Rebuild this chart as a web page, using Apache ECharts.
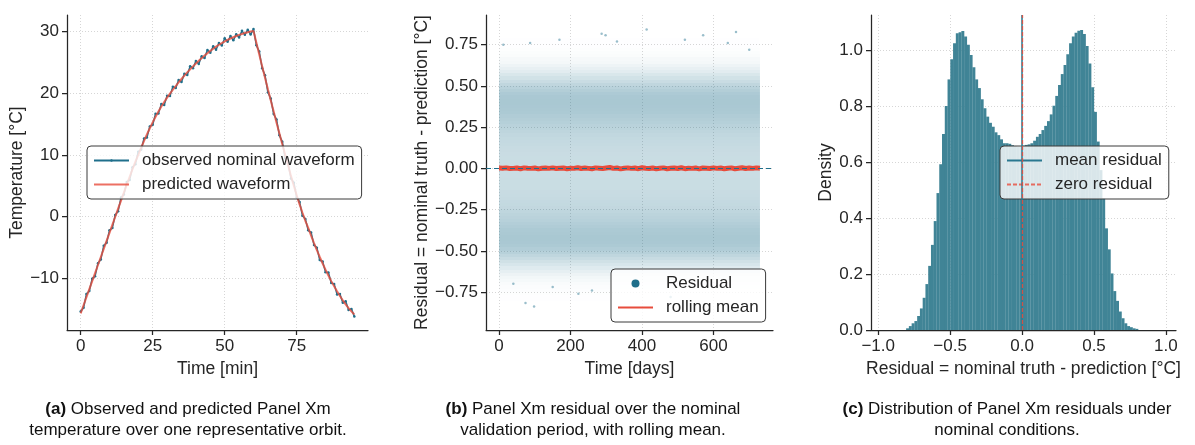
<!DOCTYPE html>
<html><head><meta charset="utf-8">
<script src="https://cdn.jsdelivr.net/npm/echarts@6/dist/echarts.min.js"></script>
<style>html,body{margin:0;padding:0;background:#fff}#c{width:1195px;height:445px}</style>
</head><body><div id="c"></div><script>
const FONT = '"Liberation Sans", Arial, Helvetica, sans-serif';
const TEAL = '#1f6f8b', RED = '#e74c3c', INK = '#262626';

// ---------- panel (a): one orbit ----------
const orbitTime = [0,1,2,3,4,5,6,7,8,9,10,11,12,13,14,15,16,17,18,19,20,21,22,23,24,25,26,27,28,29,30,31,32,33,34,35,36,37,38,39,40,41,42,43,44,45,46,47,48,49,50,51,52,53,54,55,56,57,58,59,60,61,62,63,64,65,66,67,68,69,70,71,72,73,74,75,76,77,78,79,80,81,82,83,84,85,86,87,88,89,90,91,92,93,94,95];
const observedTemp = [-15.3,-14.7,-12.5,-12.0,-10.0,-9.6,-7.5,-6.9,-4.7,-4.2,-2.2,-1.8,0.3,0.9,3.1,3.6,5.6,5.95,8.0,8.5,10.5,10.85,12.65,12.8,14.6,14.85,16.65,16.7,18.2,18.05,19.55,19.5,21.02,20.82,22.1,21.76,23.1,22.92,24.32,24.0,25.16,24.7,25.93,25.64,26.93,26.5,27.55,26.98,28.09,27.67,28.83,28.27,29.2,28.51,29.5,28.98,30.04,29.39,30.22,29.43,30.33,27.7,26.7,24.0,22.85,20.1,19.1,16.6,15.7,13.15,12.1,9.5,8.65,6.2,5.5,3.15,2.4,0.15,-0.35,-2.2,-2.55,-4.55,-5.0,-7.0,-7.25,-8.95,-9.0,-10.7,-10.85,-12.55,-12.5,-13.9,-13.65,-15.05,-14.9,-16.1];
const predictedTemp = [-15.6,-14.3,-13.0,-11.7,-10.4,-9.1,-7.8,-6.5,-5.2,-3.9,-2.6,-1.3,0.0,1.3,2.6,3.9,5.2,6.45,7.7,8.9,10.0,11.15,12.25,13.3,14.3,15.25,16.15,17.0,17.8,18.55,19.25,19.9,20.52,21.12,21.7,22.26,22.8,23.32,23.82,24.3,24.76,25.2,25.63,26.04,26.43,26.8,27.15,27.48,27.79,28.07,28.33,28.57,28.8,29.01,29.2,29.38,29.54,29.69,29.82,29.93,30.03,28.1,26.2,24.3,22.45,20.6,18.8,17.0,15.2,13.45,11.7,10.0,8.35,6.6,5.0,3.45,2.0,0.65,-0.65,-1.8,-3.05,-4.25,-5.4,-6.5,-7.55,-8.55,-9.5,-10.4,-11.25,-12.05,-12.8,-13.5,-14.15,-14.75,-15.3,-15.8];
const orbitTicks = [0,25,50,75];
const tempTicks = [-10,0,10,20,30];

// ---------- panel (b): residual over validation period ----------
const validationDays = [0, 730];
const rollDays = [0,10,20,30,40,50,60,70,80,90,100,110,120,130,140,150,160,170,180,190,200,210,220,230,240,250,260,270,280,290,300,310,320,330,340,350,360,370,380,390,400,410,420,430,440,450,460,470,480,490,500,510,520,530,540,550,560,570,580,590,600,610,620,630,640,650,660,670,680,690,700,710,720,730];
const rollMean = [0.002,0.001,0.003,-0.001,0.000,0.002,-0.002,0.003,0.001,0.000,0.002,-0.003,0.001,0.002,0.000,0.003,-0.001,0.001,0.002,-0.002,0.001,0.000,0.004,-0.001,0.002,0.000,-0.002,0.003,0.001,-0.001,0.002,0.005,0.000,0.002,-0.003,0.001,0.003,0.000,0.002,-0.002,0.004,0.001,-0.001,0.002,-0.002,0.001,0.003,-0.002,0.001,0.002,-0.001,0.004,-0.002,0.001,0.000,0.002,-0.003,0.002,0.001,-0.001,0.003,0.000,0.002,-0.002,0.001,0.003,-0.002,0.001,0.004,-0.001,0.002,0.000,0.003,0.001];
const residualOutliers = [[287,0.817],[298,0.807],[413,0.842],[571,0.807],[663,0.827],[74,-0.817],[98,-0.837],[169,0.78],[87,0.76],[12,0.75],[330,0.77],[520,0.78],[700,0.72],[40,-0.70],[150,-0.72],[260,-0.74],[480,-0.78],[610,-0.72],[222,-0.76],[640,0.76]];
const dayTicks = [0,200,400,600];
const residTicks = [-0.75,-0.5,-0.25,0,0.25,0.5,0.75];

// ---------- panel (c): residual distribution ----------
const histStart = -0.806, histBinWidth = 0.0192;
const histDensity = [0.006,0.014,0.024,0.032,0.05,0.077,0.115,0.164,0.229,0.304,0.389,0.489,0.592,0.70,0.80,0.895,0.967,1.024,1.06,1.063,1.068,1.048,1.019,0.982,0.938,0.895,0.864,0.824,0.792,0.762,0.74,0.726,0.706,0.696,0.681,0.667,0.667,0.665,0.66,0.657,0.655,0.655,
  0.658,0.661,0.663,0.667,0.676,0.69,0.70,0.714,0.729,0.746,0.77,0.801,0.836,0.875,0.914,0.946,0.985,1.024,1.048,1.062,1.069,1.071,1.057,1.014,0.952,0.867,0.779,0.673,0.571,0.47,0.363,0.288,0.202,0.139,0.104,0.066,0.042,0.024,0.014,0.010,0.006,0.004];
const meanResidual = 0.0;
const zeroResidual = 0.0;
const histTicks = [-1,-0.5,0,0.5,1];
const densityTicks = [0,0.2,0.4,0.6,0.8,1.0];

// ---------- build ----------
const minus = s => String(s).replace('-', '\u2212');
const histBins = histDensity.map((d, i) => [histStart + i*histBinWidth, histStart + (i+1)*histBinWidth, d]);

function axis(gridIndex, min, max, ticks, fmt, extra) {
  return Object.assign({
    type: 'value', gridIndex, min, max,
    axisLine: {show: true, onZero: false, lineStyle: {color: INK, width: 1.25}},
    axisTick: {show: true, inside: false, length: 5, customValues: ticks, lineStyle: {color: INK, width: 1.25}},
    axisLabel: {customValues: ticks, formatter: fmt, color: INK, fontSize: 17, fontFamily: FONT, margin: 8, hideOverlap: false},
    splitLine: {show: true, lineStyle: {color: '#d6d6d6', type: [1, 2], width: 1}},
    nameLocation: 'middle',
    nameTextStyle: {fontSize: 17.5, fontFamily: FONT, color: INK}
  }, extra || {});
}
const legendBase = {
  orient: 'vertical', itemWidth: 35, itemHeight: 3, itemGap: 7,
  padding: [6, 7, 6, 6],
  backgroundColor: 'rgba(255,255,255,0.8)', borderColor: '#3a3a3a', borderWidth: 1, borderRadius: 4,
  textStyle: {fontSize: 17, fontFamily: FONT, color: INK, lineHeight: 17, padding: [0, 0, 0, 8]},
  selectedMode: false
};
const noDot = {opacity: 0};

const chart = echarts.init(document.getElementById('c'), null, {renderer: 'canvas'});
chart.setOption({
  animation: false,
  backgroundColor: '#fff',
  grid: [
    {left: 67, top: 15, width: 301, height: 315},
    {left: 486, top: 15, width: 287, height: 315},
    {left: 871, top: 15, width: 305, height: 315}
  ],
  xAxis: [
    axis(0, -4.75, 99.75, orbitTicks, v => minus(v), {name: 'Time [min]', nameGap: 23}),
    axis(1, -36.5, 766.5, dayTicks, v => minus(v), {name: 'Time [days]', nameGap: 23}),
    axis(2, -1.05, 1.07, histTicks, v => minus(v.toFixed(1)), {name: 'Residual = nominal truth - prediction [°C]', nameGap: 23})
  ],
  yAxis: [
    axis(0, -18.3, 32.6, tempTicks, v => minus(v), {name: 'Temperature [°C]', nameGap: 40}),
    axis(1, -0.98, 0.93, residTicks, v => minus(v.toFixed(2)), {name: 'Residual = nominal truth - prediction [°C]', nameGap: 55}),
    axis(2, 0, 1.125, densityTicks, v => minus(v.toFixed(1)), {name: 'Density', nameGap: 35})
  ],
  legend: [
    Object.assign({}, legendBase, {left: 87, top: 146,
      data: ['observed nominal waveform', {name: 'predicted waveform', itemStyle: noDot}]}),
    Object.assign({}, legendBase, {left: 611, top: 269, itemHeight: 8,
      data: [{name: 'Residual', icon: 'circle', itemStyle: {color: TEAL, opacity: 1}},
             {name: 'rolling mean', itemStyle: noDot}]}),
    Object.assign({}, legendBase, {left: 1000, top: 146,
      data: [{name: 'mean residual', itemStyle: noDot}, {name: 'zero residual', itemStyle: noDot}]})
  ],
  series: [
    // (a)
    {type: 'line', name: 'observed nominal waveform', xAxisIndex: 0, yAxisIndex: 0,
      data: orbitTime.map((t, i) => [t, observedTemp[i]]),
      symbol: 'circle', symbolSize: 2.5, showSymbol: true,
      lineStyle: {color: TEAL, width: 1.5}, itemStyle: {color: TEAL}, z: 2},
    {type: 'line', name: 'predicted waveform', xAxisIndex: 0, yAxisIndex: 0,
      data: orbitTime.map((t, i) => [t, predictedTemp[i]]),
      symbol: 'none', showSymbol: false,
      lineStyle: {color: RED, width: 2, opacity: 0.8}, itemStyle: {color: RED}, z: 3},
    // (b) residual cloud density drawn from the residual distribution over the validation window
    {type: 'custom', name: 'cloud', xAxisIndex: 1, yAxisIndex: 1, clip: true, silent: true,
      data: histBins.map(b => [validationDays[0], validationDays[1], b[0], b[1], b[2]]),
      encode: {x: [0, 1], y: [2, 3]},
      renderItem: (params, api) => {
        const p0 = api.coord([api.value(0), api.value(3)]);
        const p1 = api.coord([api.value(1), api.value(2)]);
        const y0 = Math.round(p0[1]), y1 = Math.round(p1[1]);
        return {type: 'rect', shape: {x: p0[0], y: y0, width: p1[0] - p0[0], height: y1 - y0},
          style: {fill: TEAL, opacity: api.value(4) * 0.36}};
      }, z: 1},
    {type: 'scatter', name: 'Residual', xAxisIndex: 1, yAxisIndex: 1, data: residualOutliers,
      symbolSize: 2.5, itemStyle: {color: TEAL, opacity: 0.45}, z: 2},
    {type: 'line', name: 'zero-ref', xAxisIndex: 1, yAxisIndex: 1, data: [], z: 3,
      markLine: {silent: true, symbol: 'none', label: {show: false},
        lineStyle: {color: TEAL, type: [5, 3], width: 1}, data: [{yAxis: 0}]}},
    {type: 'line', name: 'rolling mean', xAxisIndex: 1, yAxisIndex: 1,
      data: rollDays.map((d, i) => [d, rollMean[i]]), symbol: 'none', showSymbol: false,
      lineStyle: {color: RED, width: 5}, itemStyle: {color: RED}, z: 4},
    // (c)
    {type: 'custom', name: 'hist', xAxisIndex: 2, yAxisIndex: 2, clip: true, silent: true,
      data: histBins, encode: {x: [0, 1], y: 2},
      renderItem: (params, api) => {
        const p0 = api.coord([api.value(0), api.value(2)]);
        const p1 = api.coord([api.value(1), 0]);
        return {type: 'rect', shape: {x: p0[0], y: p0[1], width: p1[0] - p0[0] + 0.2, height: p1[1] - p0[1]},
          style: {fill: '#408496'}};
      }, z: 1},
    {type: 'line', name: 'mean residual', xAxisIndex: 2, yAxisIndex: 2, data: [], symbol: 'none',
      lineStyle: {color: '#2a7890', width: 1.5}, itemStyle: {color: '#2a7890'}, z: 3,
      markLine: {silent: true, symbol: 'none', label: {show: false},
        lineStyle: {color: '#2a7890', type: 'solid', width: 1.5}, data: [{xAxis: meanResidual}]}},
    {type: 'line', name: 'zero residual', xAxisIndex: 2, yAxisIndex: 2, data: [], symbol: 'none',
      lineStyle: {color: RED, width: 1.5, type: [4, 2], opacity: 0.8}, itemStyle: {color: RED}, z: 4,
      markLine: {silent: true, symbol: 'none', label: {show: false},
        lineStyle: {color: RED, type: [4, 2], width: 1.3, opacity: 0.85}, data: [{xAxis: zeroResidual}]}}
  ],
  graphic: [
    {type: 'text', x: 188, y: 409, style: {text: '{b|(a)} Observed and predicted Panel Xm', align: 'center', verticalAlign: 'middle',
      fontSize: 17, fontFamily: FONT, fill: '#111', rich: {b: {fontWeight: 'bold', fontSize: 17, fontFamily: FONT, fill: '#111'}}}},
    {type: 'text', x: 188, y: 430, style: {text: 'temperature over one representative orbit.', align: 'center', verticalAlign: 'middle',
      fontSize: 17, fontFamily: FONT, fill: '#111'}},
    {type: 'text', x: 593, y: 409, style: {text: '{b|(b)} Panel Xm residual over the nominal', align: 'center', verticalAlign: 'middle',
      fontSize: 17, fontFamily: FONT, fill: '#111', rich: {b: {fontWeight: 'bold', fontSize: 17, fontFamily: FONT, fill: '#111'}}}},
    {type: 'text', x: 593, y: 430, style: {text: 'validation period, with rolling mean.', align: 'center', verticalAlign: 'middle',
      fontSize: 17, fontFamily: FONT, fill: '#111'}},
    {type: 'text', x: 1007, y: 409, style: {text: '{b|(c)} Distribution of Panel Xm residuals under', align: 'center', verticalAlign: 'middle',
      fontSize: 17, fontFamily: FONT, fill: '#111', rich: {b: {fontWeight: 'bold', fontSize: 17, fontFamily: FONT, fill: '#111'}}}},
    {type: 'text', x: 1007, y: 430, style: {text: 'nominal conditions.', align: 'center', verticalAlign: 'middle',
      fontSize: 17, fontFamily: FONT, fill: '#111'}}
  ]
});
</script></body></html>
